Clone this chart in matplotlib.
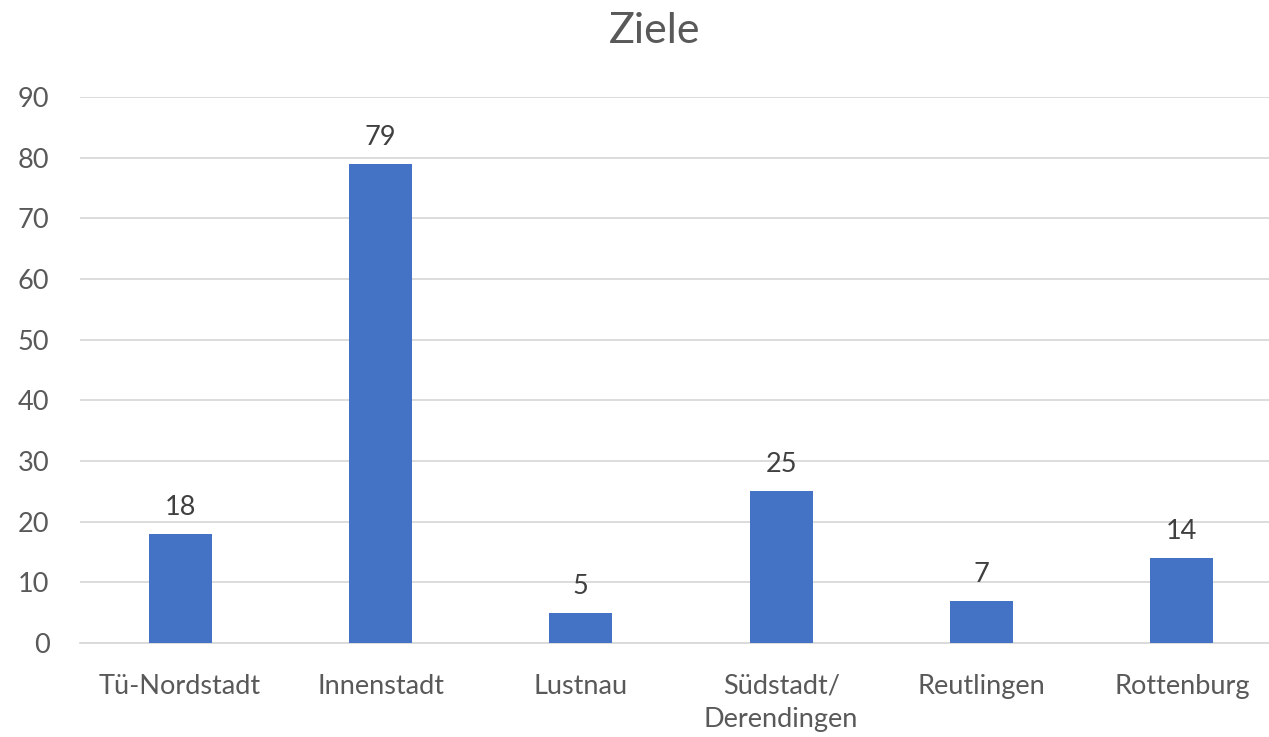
import matplotlib
matplotlib.use("Agg")
import matplotlib.pyplot as plt

categories = ["Tü-Nordstadt", "Innenstadt", "Lustnau", "Südstadt/\nDerendingen", "Reutlingen", "Rottenburg"]
values = [18, 79, 5, 25, 7, 14]
yticks = [0, 10, 20, 30, 40, 50, 60, 70, 80, 90]
title = "Ziele"

plt.rcParams['font.family'] = ['Lato', 'DejaVu Sans']
W, H = 1269, 737
fig = plt.figure(figsize=(W/100, H/100), dpi=100)
ax = fig.add_axes([80/W, 1-643/H, 1202/W, (643-97)/H])
ax.set_xlim(-0.5, len(categories)-0.5)
ax.set_ylim(0, 90)
x = range(len(categories))
bars = ax.bar(x, values, width=0.315, color="#4472C4", zorder=3)
for xi, v in zip(x, values):
    ax.text(xi, v + 2.3, str(v), ha="center", va="bottom", fontsize=19.5, color="#404040")
ax.set_yticks(yticks)
ax.set_yticklabels([str(t) for t in yticks], fontsize=19.5, color="#595959")
ax.set_xticks(list(x))
ax.set_xticklabels(categories, fontsize=19.5, color="#595959", linespacing=1.4)
ax.tick_params(axis="both", length=0)
ax.tick_params(axis="x", pad=22)
ax.tick_params(axis="y", pad=22)
ax.grid(axis="y", color="#D9D9D9", linewidth=1.3, zorder=0)
for s in ["top", "right", "left"]:
    ax.spines[s].set_visible(False)
ax.spines["bottom"].set_color("#D9D9D9")
ax.spines["bottom"].set_linewidth(1.3)
fig.text(655/W, 1-31/H, title, ha="center", va="center", fontsize=31, color="#595959")
fig.savefig("out.png", dpi=100)
